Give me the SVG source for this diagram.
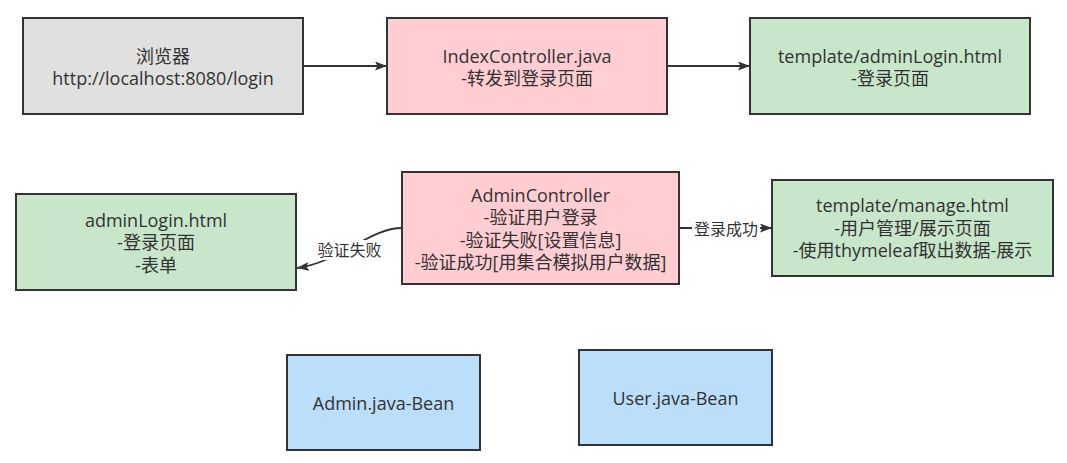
<svg xmlns="http://www.w3.org/2000/svg" width="1067" height="463" viewBox="0 0 1067 463">
<style>
  .box { stroke: #333333; stroke-width: 2; }
  .gray { fill: #e0e0e0; }
  .pink { fill: #ffcdd2; }
  .green { fill: #c8e6c9; }
  .blue { fill: #bbdefb; }
  text { font-family: "Open Sans", "Noto Sans CJK SC", sans-serif; fill: #333333; text-anchor: middle; }
  .t { font-size: 18px; }
  .lbl { font-size: 16px; }
  .edge { fill: none; stroke: #333333; stroke-width: 1.8; marker-end: url(#arr); }
  .lblbg { fill: #ffffff; }
</style>
<defs>
  <marker id="arr" markerUnits="userSpaceOnUse" markerWidth="13" markerHeight="10" refX="12" refY="4.5" orient="auto">
    <path d="M0,0 L12,4.5 L0,9 L2.5,4.5 z" fill="#333333"/>
  </marker>
</defs>
<rect width="1067" height="463" fill="#ffffff"/>

<g id="connectors">
  <path class="edge" d="M303,66 L387,66"/>
  <path class="edge" d="M667,66 L750,66"/>
  <path class="edge" d="M679,228 L772,228"/>
  <path class="edge" d="M402,228 C370,228 340,262 297,268"/>
  <rect class="lblbg" x="315" y="240" width="69" height="20"/>
  <text class="lbl" x="349.5" y="256">验证失败</text>
  <rect class="lblbg" x="692" y="219" width="68" height="20"/>
  <text class="lbl" x="726" y="235">登录成功</text>
</g>

<g id="browser">
  <rect class="box gray" x="23" y="18" width="280" height="96"/>
  <text class="t" x="163" y="62.5">浏览器<tspan x="163" dy="22">http://localhost:8080/login</tspan></text>
</g>

<g id="indexController">
  <rect class="box pink" x="387" y="18" width="280" height="96"/>
  <text class="t" x="527" y="62.5">IndexController.java<tspan x="527" dy="22">-转发到登录页面</tspan></text>
</g>

<g id="adminLoginTemplate">
  <rect class="box green" x="750" y="18" width="280" height="96"/>
  <text class="t" x="890" y="62.5">template/adminLogin.html<tspan x="890" dy="22">-登录页面</tspan></text>
</g>

<g id="adminLogin">
  <rect class="box green" x="16" y="194" width="280" height="96"/>
  <text class="t" x="156" y="226.5">adminLogin.html<tspan x="156" dy="22.5">-登录页面</tspan><tspan x="156" dy="22.5">-表单</tspan></text>
</g>

<g id="adminController">
  <rect class="box pink" x="402" y="172" width="277" height="112"/>
  <text class="t" x="540.5" y="201.5">AdminController<tspan x="540.5" dy="22.5">-验证用户登录</tspan><tspan x="540.5" dy="22.5">-验证失败[设置信息]</tspan><tspan x="540.5" dy="22.5">-验证成功[用集合模拟用户数据]</tspan></text>
</g>

<g id="manage">
  <rect class="box green" x="772" y="180" width="281" height="96"/>
  <text class="t" x="912.5" y="212">template/manage.html<tspan x="912.5" dy="22.5">-用户管理/展示页面</tspan><tspan x="912.5" dy="22.5">-使用thymeleaf取出数据-展示</tspan></text>
</g>

<g id="adminBean">
  <rect class="box blue" x="287" y="355" width="193" height="95"/>
  <text class="t" x="383.5" y="409.5">Admin.java-Bean</text>
</g>

<g id="userBean">
  <rect class="box blue" x="579" y="350" width="193" height="95"/>
  <text class="t" x="675.5" y="404.5">User.java-Bean</text>
</g>
</svg>
